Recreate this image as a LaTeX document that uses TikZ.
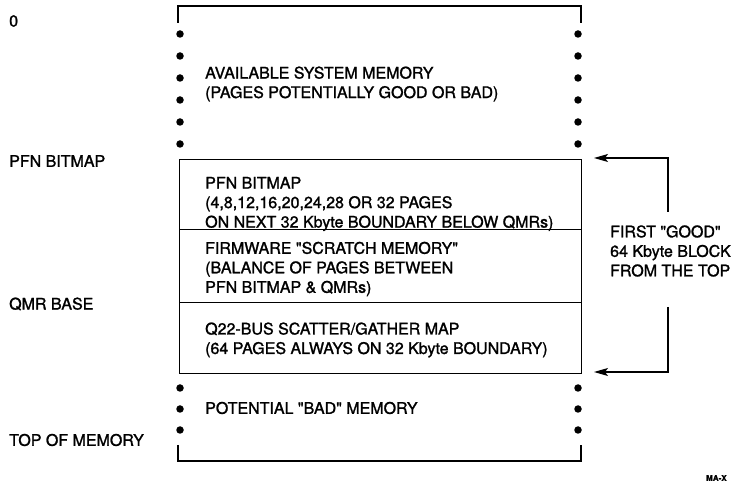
\documentclass[tikz,border=0pt]{standalone}
\usepackage{fontspec}
\setmainfont{TeX Gyre Heros}[FakeBold=1.4,Ligatures=TeXOff]
\usetikzlibrary{arrows.meta}
\begin{document}
\begin{tikzpicture}[x=1pt,y=-1pt,
  txt/.style={anchor=west,align=left,inner sep=0pt,font=\fontsize{16}{19.5}\selectfont},
  region/.style={draw,line width=1.2pt,minimum width=402pt,anchor=north west,inner sep=0pt},
  bracket/.style={line width=1.2pt},
  dotmark/.style={circle,fill=black,inner sep=0pt,minimum size=7.5pt},
  conn/.style={line width=1.2pt,-{Stealth[length=14pt,width=8pt,inset=3pt]}}]
\useasboundingbox (0,0) rectangle (737,486);
% brackets (open ends of memory)
\draw[bracket] (178,23) -- (178,6) -- (581,6) -- (581,23);
\draw[bracket] (178,445) -- (178,461) -- (581,461) -- (581,445);
% dots
\foreach \y [count=\i] in {34,56,78,100,122,144}{
  \node[dotmark] (tl\i) at (180,\y) {};
  \node[dotmark] (tr\i) at (578,\y) {};
}
\foreach \y [count=\i] in {388,409,430}{
  \node[dotmark] (bl\i) at (180,\y) {};
  \node[dotmark] (br\i) at (578,\y) {};
}
% regions
\node[region,minimum height=70pt] (pfn) at (179,159) {};
\node[region,minimum height=73pt] (fw) at (179,229) {};
\node[region,minimum height=71pt] (qmr) at (179,302) {};
% region texts
\node[txt] (tavail) at (205,84) {AVAILABLE SYSTEM MEMORY\\(PAGES POTENTIALLY GOOD OR BAD)};
\node[txt] (tpfn) at (205,204) {PFN BITMAP\\(4,8,12,16,20,24,28 OR 32 PAGES\\ON NEXT 32 Kbyte BOUNDARY BELOW QMRs)};
\node[txt] (tfw) at (205,269) {FIRMWARE "SCRATCH MEMORY"\\(BALANCE OF PAGES BETWEEN\\PFN BITMAP \& QMRs)};
\node[txt] (tq) at (205,340) {Q22-BUS SCATTER/GATHER MAP\\(64 PAGES ALWAYS ON 32 Kbyte BOUNDARY)};
\node[txt] (tbad) at (205,408) {POTENTIAL "BAD" MEMORY};
% left labels
\node[txt] (l0) at (9,21) {0};
\node[txt] (lpfn) at (9,161) {PFN BITMAP};
\node[txt] (lqmr) at (9,304) {QMR BASE};
\node[txt] (ltop) at (9,440) {TOP OF MEMORY};
% right annotation
\node[txt] (good) at (610,251) {FIRST "GOOD"\\64 Kbyte BLOCK\\FROM THE TOP};
\coordinate (up) at (668,212);
\coordinate (dn) at (668,307);
\coordinate (tipA) at (594,158);
\coordinate (tipB) at (594,372);
\draw[conn] (up) |- (tipA);
\draw[conn] (dn) |- (tipB);
% figure id
\node[anchor=west,inner sep=0pt,font=\bfseries\fontsize{8}{9}\selectfont] (id) at (706,478) {MA-X};
\end{tikzpicture}
\end{document}
